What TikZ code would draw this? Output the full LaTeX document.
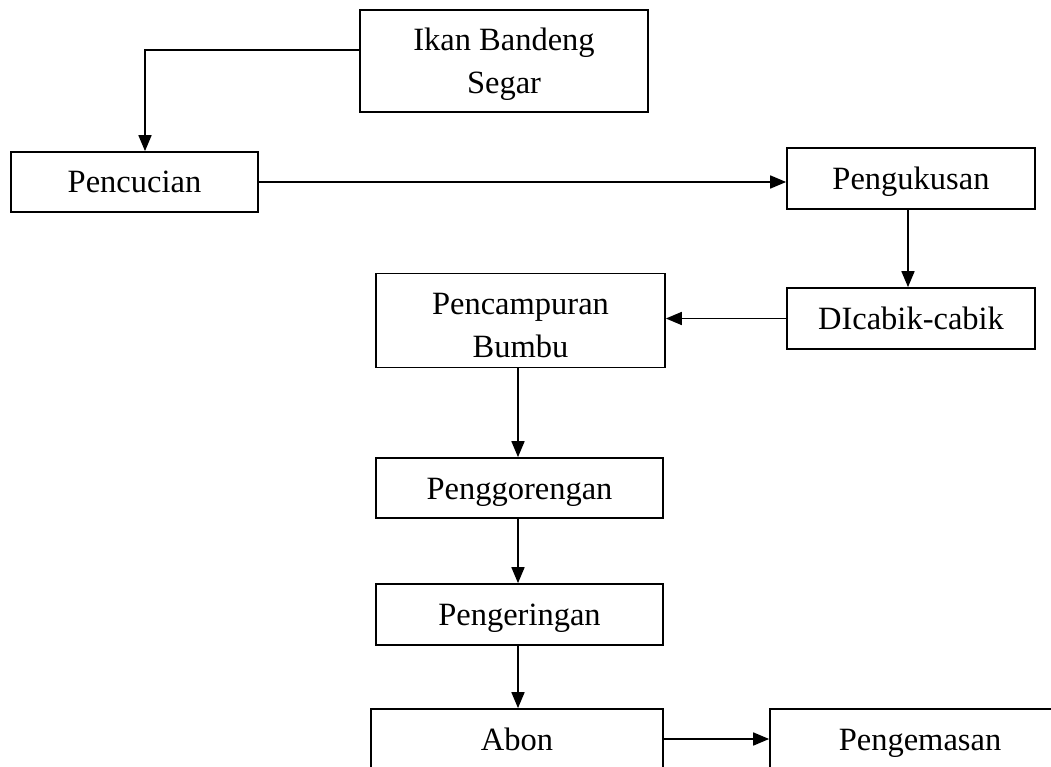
\documentclass[tikz,border=0pt]{standalone}
\usepackage{fontspec}
\setmainfont{Liberation Serif}
\usetikzlibrary{arrows.meta}
\begin{document}
\begin{tikzpicture}[x=1pt,y=-1pt,
  box/.style={draw,line width=1.7pt,inner sep=0pt,align=center,text height=22pt,text depth=0pt,font=\fontsize{32.5}{43}\selectfont},
  arr/.style={line width=1.7pt,-{Triangle[length=16pt,width=13pt]}}]
\clip (0,0) rectangle (1051,767);
\fill[white] (0,0) rectangle (1051,767);
\node[box,minimum width=288,minimum height=102,text height=65pt] (ikan) at (504,61) {Ikan Bandeng\\Segar};
\node[box,minimum width=247,minimum height=60] (pencucian) at (134.5,182) {Pencucian};
\node[box,minimum width=248,minimum height=61] (pengukusan) at (911,178.5) {Pengukusan};
\node[box,minimum width=248,minimum height=61] (dicabik) at (911,318.5) {DIcabik-cabik};
\node[box,minimum width=289,minimum height=94,text height=73pt] (pencampuran) at (520.5,320.5) {Pencampuran\\Bumbu};
\node[box,minimum width=287,minimum height=60] (penggorengan) at (519.5,488) {Penggorengan};
\node[box,minimum width=287,minimum height=61] (pengeringan) at (519.5,614.5) {Pengeringan};
\node[box,minimum width=292,minimum height=60] (abon) at (517,739) {Abon};
\node[box,minimum width=300,minimum height=60] (pengemasan) at (920,739) {Pengemasan};
\draw[arr] ([yshift=11pt]ikan.west) -| ([xshift=10.5pt]pencucian.north);
\draw[arr] (pencucian.east) -- (pencucian.east -| pengukusan.west);
\draw[arr] ([xshift=-3pt]pengukusan.south) -- ([xshift=-3pt]dicabik.north);
\draw[arr] (dicabik.west) -- (dicabik.west -| pencampuran.east);
\draw[arr] ([xshift=-2.5pt]pencampuran.south) -- ([xshift=-1.5pt]penggorengan.north);
\draw[arr] ([xshift=-1.5pt]penggorengan.south) -- ([xshift=-1.5pt]pengeringan.north);
\draw[arr] ([xshift=-1.5pt]pengeringan.south) -- ([xshift=1pt]abon.north);
\draw[arr] (abon.east) -- (pengemasan.west);
\end{tikzpicture}
\end{document}
